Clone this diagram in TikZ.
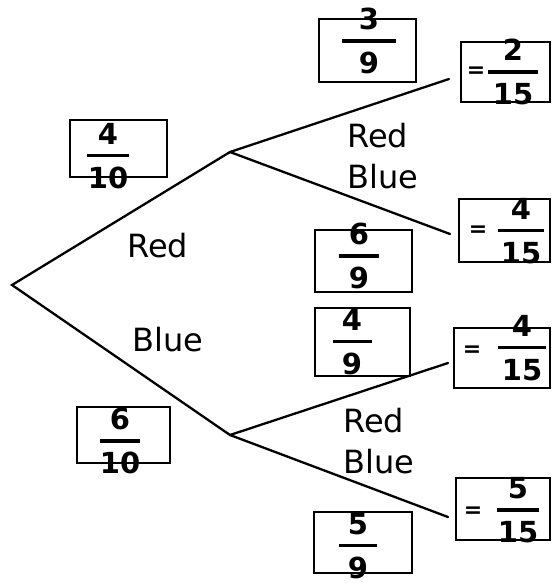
\documentclass[tikz,border=0pt]{standalone}
\usepackage{amsmath}
\usepackage{fontspec}
\setmainfont{DejaVu Sans}
\newcommand{\hfr}[3]{$\genfrac{}{}{3.2pt}{0}{\hbox to #1{\hss#2\hss}}{\hbox{#3}}$}
\tikzset{
  fbox/.style={draw, line width=1.6pt, inner sep=0pt},
  branch/.style={line width=2.3pt, line cap=round},
  lbl/.style={anchor=base west, inner sep=0pt, font=\fontsize{32}{36}\selectfont},
  frc/.style={inner sep=0pt, font=\fontsize{29}{30}\selectfont\bfseries},
  eqs/.style={inner sep=0pt, font=\fontsize{22}{22}\selectfont\bfseries},
}
\begin{document}
\begin{tikzpicture}[x=1pt,y=-1pt]
\useasboundingbox (0,0) rectangle (552,584);
% branch points
\coordinate (root) at (12,285);
\coordinate (A) at (230,152);
\coordinate (B) at (230,435);
\coordinate (e1) at (449,79);
\coordinate (e2) at (450,234);
\coordinate (e3) at (448,363);
\coordinate (e4) at (448,517);
\draw[branch] (e1) -- (A) -- (root) -- (B) -- (e3);
\draw[branch] (A) -- (e2);
\draw[branch] (B) -- (e4);
% boxes
\node[fbox, minimum width=97pt, minimum height=63pt] (b39) at (367.5,50.5) {};
\node[fbox, minimum width=89pt, minimum height=60pt] (r1) at (505.5,72) {};
\node[fbox, minimum width=97pt, minimum height=57pt] (b410) at (118.5,148.5) {};
\node[fbox, minimum width=97pt, minimum height=62pt] (b69) at (363.5,261) {};
\node[fbox, minimum width=91pt, minimum height=63pt] (r2) at (504.5,230.5) {};
\node[fbox, minimum width=93pt, minimum height=56pt] (b610) at (123.5,435) {};
\node[fbox, minimum width=95pt, minimum height=68pt] (b49) at (362.5,342) {};
\node[fbox, minimum width=96pt, minimum height=60pt] (r3) at (502,358) {};
\node[fbox, minimum width=94pt, minimum height=62pt] (r4) at (503,509) {};
\node[fbox, minimum width=98pt, minimum height=61pt] (b59) at (363,542.5) {};
% fractions
\node[frc] (f39) at (369,41) {\hfr{54pt}{3}{9}};
\node[frc] (f410) at (108,156) {\hfr{42pt}{4}{10}};
\node[frc] (f69) at (359,256) {\hfr{40pt}{6}{9}};
\node[frc] (f610) at (120,441) {\hfr{38pt}{6}{10}};
\node[frc] (f49) at (352,342) {\hfr{39pt}{4}{9}};
\node[frc] (f59) at (358,546) {\hfr{38pt}{5}{9}};
\node[frc] (f215) at (513,72) {\hfr{50pt}{2}{15}};
\node[frc] (f415a) at (521,231) {\hfr{46pt}{4}{15}};
\node[frc] (f415b) at (522,348) {\hfr{48pt}{4}{15}};
\node[frc] (f515) at (518,510) {\hfr{42pt}{5}{15}};
\node[eqs] (q1) at (476,72) {=};
\node[eqs] (q2) at (478,231) {=};
\node[eqs] (q3) at (472,351) {=};
\node[eqs] (q4) at (473,512) {=};
% labels
\node[lbl] (lr1) at (127,257) {Red};
\node[lbl] (lb1) at (132,351) {Blue};
\node[lbl] (lr2) at (347,147) {Red};
\node[lbl] (lb2) at (347,188) {Blue};
\node[lbl] (lr3) at (343,432) {Red};
\node[lbl] (lb3) at (343,473) {Blue};
\end{tikzpicture}
\end{document}
